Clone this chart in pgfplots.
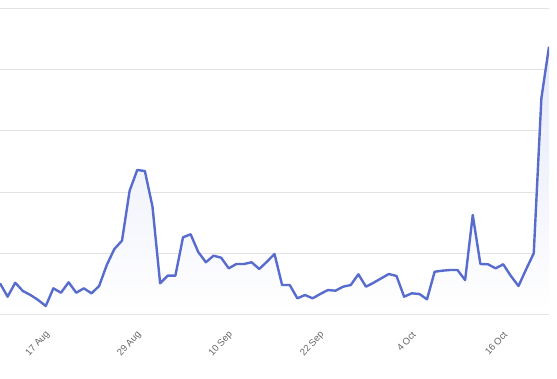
\documentclass[border=0pt]{standalone}
\usepackage{pgfplots}
\usepackage{pgfplotstable}
\pgfplotsset{compat=1.18}
\usepackage{fontspec}
\setmainfont{Liberation Sans}
\definecolor{lc}{RGB}{88,108,206}
\definecolor{gridc}{RGB}{226,226,226}
\definecolor{labc}{RGB}{102,102,102}
\pgfplotstableread{
d v
0 50.3
1 28.4
2 51.3
3 37.7
4 31.1
5 23.0
6 13.1
7 42.1
8 34.9
9 52.0
10 34.9
11 42.1
12 33.9
13 45.9
14 80.3
15 106.6
16 120.2
17 202.1
18 236.1
19 234.4
20 175.9
21 50.3
22 62.8
23 62.8
24 125.7
25 130.7
26 101.6
27 84.8
28 95.6
29 92.3
30 74.9
31 82.0
32 82.0
33 84.8
34 73.8
35 85.7
36 98.4
37 47.5
38 47.5
39 25.7
40 31.1
41 25.7
42 32.8
43 39.3
44 38.2
45 44.8
46 47.5
47 65.1
48 44.8
49 51.3
50 58.5
51 65.6
52 62.3
53 28.4
54 33.9
55 32.8
56 24.1
57 69.3
58 71.0
59 72.1
60 72.1
61 55.7
62 162.3
63 82.0
64 81.5
65 74.9
66 81.5
67 62.3
68 45.9
69 73.3
70 99.5
71 353.6
72 438.2
}\datatable
\begin{document}
\begin{tikzpicture}
\path[use as bounding box] (0,0) rectangle (557pt,378pt);
\begin{axis}[
  at={(0pt,64pt)}, anchor=south west,
  scale only axis,
  width=549pt, height=314pt,
  xmin=0, xmax=72, ymin=0, ymax=514.75,
  axis line style={draw=none},
  major tick length=0pt,
  ytick={0,100,200,300,400,500},
  yticklabels={},
  ymajorgrids,
  major grid style={draw=gridc, line width=1pt},
  xtick={6,18,30,42,54,66},
  xticklabels={17 Aug,29 Aug,10 Sep,22 Sep,4 Oct,16 Oct},
  xticklabel style={xshift=3pt, yshift=-18pt, rotate=48, anchor=east, inner sep=1pt, font=\fontsize{9.5}{11}\selectfont, text=labc},
]
\addplot[draw=none, top color=lc!15, bottom color=white, forget plot] table[x=d,y=v] {\datatable} \closedcycle;
\addplot[draw=lc, line width=2.4pt, line join=round, mark=none] table[x=d,y=v] {\datatable};
\end{axis}
\end{tikzpicture}
\end{document}
